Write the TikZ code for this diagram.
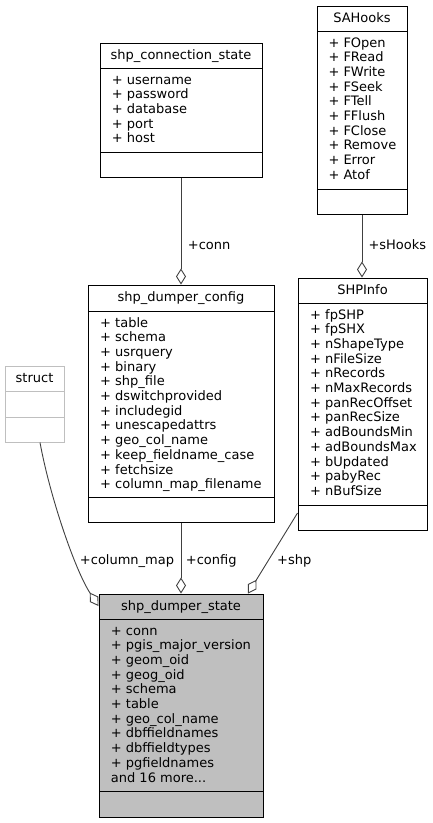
\documentclass[tikz,border=0pt]{standalone}
\usepackage{fontspec}
\setmainfont{DejaVu Sans}
\usetikzlibrary{arrows.meta}
\definecolor{edgecol}{HTML}{404040}
\definecolor{greyseventyfive}{HTML}{BFBFBF}
\begin{document}
\begin{tikzpicture}[x=1pt,y=-1pt,
  every node/.style={font=\fontsize{13pt}{14.7pt}\selectfont, inner sep=0pt, text=black},
  cls/.style={draw=black, line width=1pt, rectangle, inner sep=0pt},
  ghost/.style={draw=greyseventyfive, line width=1pt, rectangle, inner sep=0pt},
  sepline/.style={draw=black, line width=1pt},
  ghostsep/.style={draw=greyseventyfive, line width=1pt},
  ttl/.style={anchor=base},
  attr/.style={anchor=base west},
  lbl/.style={anchor=base west},
  agg/.style={draw=edgecol, line width=0.9pt, -{Diamond[open, length=16pt, width=10pt]}},
]
\useasboundingbox (0,0) rectangle (433,823);

% ---- shp_connection_state
\node[cls, minimum width=162pt, minimum height=134pt] (cs) at (181,110) {};
\draw[sepline] (100,68) -- (262,68);
\draw[sepline] (100,152) -- (262,152);
\node[ttl] (cst) at (181,59) {shp\_connection\_state};
\foreach \t [count=\i from 0] in {username,password,database,port,host}
  \node[attr] (csa\i) at (111.7,84+14.7*\i) {+ \t};

% ---- SAHooks
\node[cls, minimum width=90pt, minimum height=208pt] (sah) at (362,110) {};
\draw[sepline] (317,31) -- (407,31);
\draw[sepline] (317,189) -- (407,189);
\node[ttl] (saht) at (362,22.3) {SAHooks};
\foreach \t [count=\i from 0] in {FOpen,FRead,FWrite,FSeek,FTell,FFlush,FClose,Remove,Error,Atof}
  \node[attr] (saha\i) at (328.3,47+14.7*\i) {+ \t};

% ---- shp_dumper_config
\node[cls, minimum width=186pt, minimum height=237pt] (cfg) at (181,403.5) {};
\draw[sepline] (88,311) -- (274,311);
\draw[sepline] (88,497) -- (274,497);
\node[ttl] (cfgt) at (181,301.6) {shp\_dumper\_config};
\foreach \t [count=\i from 0] in {table,schema,usrquery,binary,shp\_file,dswitchprovided,includegid,unescapedattrs,geo\_col\_name,keep\_fieldname\_case,fetchsize,column\_map\_filename}
  \node[attr] (cfga\i) at (100,327+14.7*\i) {+ \t};

% ---- SHPInfo
\node[cls, minimum width=129pt, minimum height=252pt] (shpi) at (362.5,404) {};
\draw[sepline] (298,303) -- (427,303);
\draw[sepline] (298,505) -- (427,505);
\node[ttl] (shpit) at (362.5,294) {SHPInfo};
\foreach \t [count=\i from 0] in {fpSHP,fpSHX,nShapeType,nFileSize,nRecords,nMaxRecords,panRecOffset,panRecSize,adBoundsMin,adBoundsMax,bUpdated,pabyRec,nBufSize}
  \node[attr] (shpia\i) at (310,319+14.7*\i) {+ \t};

% ---- struct
\node[ghost, minimum width=59pt, minimum height=76pt] (st) at (34.5,404) {};
\draw[ghostsep] (5,391) -- (64,391);
\draw[ghostsep] (5,417) -- (64,417);
\node[ttl] (stt) at (34.5,382) {struct};

% ---- shp_dumper_state
\node[cls, fill=greyseventyfive, minimum width=164pt, minimum height=223pt] (sds) at (181,705.5) {};
\draw[sepline] (99,619) -- (263,619);
\draw[sepline] (99,791) -- (263,791);
\node[ttl] (sdst) at (181,610) {shp\_dumper\_state};
\foreach \t [count=\i from 0] in {conn,pgis\_major\_version,geom\_oid,geog\_oid,schema,table,geo\_col\_name,dbffieldnames,dbffieldtypes,pgfieldnames}
  \node[attr] (sdsa\i) at (110.7,635+14.7*\i) {+ \t};
\node[attr] (sdsmore) at (110.7,782) {and 16 more...};

% ---- connectors
\draw[agg] (cs.south) -- (cfg.north);
\draw[agg] (sah.south) -- (sah.south |- shpi.north);
\draw[agg] (cfg.south) -- (sds.north);
\draw[agg] (shpi.west |- 0,513) -- (sds.north -| 248,0);
\draw[agg] (st.south -| 40,0) .. controls (50,497) and (75,570) .. (sds.west |- 0,606);

% ---- labels
\node[lbl] (lconn) at (187.7,249.3) {+conn};
\node[lbl] (lhooks) at (368.3,249.3) {+sHooks};
\node[anchor=base east] (lcm) at (174.3,564) {+column\_map};
\node[lbl] (lcfg) at (185.7,564) {+config};
\node[lbl] (lshp) at (277,564) {+shp};
\end{tikzpicture}
\end{document}
